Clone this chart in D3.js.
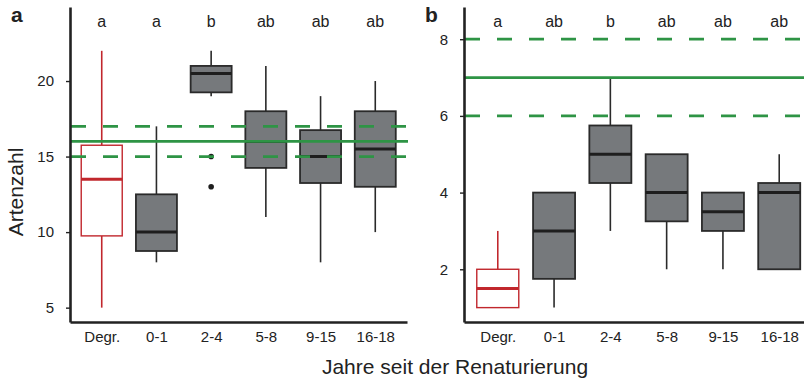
<!DOCTYPE html>
<html><head><meta charset="utf-8">
<script src="https://cdn.jsdelivr.net/npm/d3@7"></script>
<style>
body{margin:0;background:#fff;}
text{font-family:"Liberation Sans",Arial,Helvetica,sans-serif;fill:#222;}
</style></head>
<body><svg id="c" width="804" height="382"></svg>
<script>
const categories = ["Degr.","0-1","2-4","5-8","9-15","16-18"];
// Panel a: Artenzahl
const aMin = [5, 8, 19, 11, 8, 10];
const aQ1  = [9.75, 8.75, 19.25, 14.25, 13.25, 13];
const aMed = [13.5, 10, 20.5, 16, 15, 15.5];
const aQ3  = [15.75, 12.5, 21, 18, 16.75, 18];
const aMax = [22, 17, 22, 21, 19, 20];
const aOutlierCats = ["2-4","2-4"];
const aOutlierVals = [15, 13];
const aLetters = ["a","a","b","ab","ab","ab"];
const aRef = [15, 16, 17];
const aTicks = [5, 10, 15, 20];
// Panel b
const bMin = [1, 1, 3, 2, 2, 2];
const bQ1  = [1, 1.75, 4.25, 3.25, 3, 2];
const bMed = [1.5, 3, 5, 4, 3.5, 4];
const bQ3  = [2, 4, 5.75, 5, 4, 4.25];
const bMax = [3, 4, 7, 5, 4, 5];
const bOutlierCats = [];
const bOutlierVals = [];
const bLetters = ["a","ab","b","ab","ab","ab"];
const bRef = [6, 7, 8];
const bTicks = [2, 4, 6, 8];

const svg = d3.select("#c");
const GREEN = "#2e9445", RED = "#c1272d", GRAY = "#76797c", DARK = "#2a2a2a";

function panel(o){
  const x = d3.scalePoint().domain(categories).range(o.xr).padding(o.pad);
  const y = d3.scaleLinear().domain(o.yd).range([322, 7]);
  const g = svg.append("g");
  const bw = o.bw;
  categories.forEach((c,i)=>{
    const cx = x(c);
    const isRef = i===0;
    const stroke = isRef ? RED : DARK;
    g.append("line").attr("x1",cx).attr("x2",cx).attr("y1",y(o.max[i])).attr("y2",y(o.q3[i]))
      .attr("stroke",stroke).attr("stroke-width",1.6);
    g.append("line").attr("x1",cx).attr("x2",cx).attr("y1",y(o.q1[i])).attr("y2",y(o.min[i]))
      .attr("stroke",stroke).attr("stroke-width",1.6);
    g.append("rect").attr("x",cx-bw/2).attr("width",bw)
      .attr("y",y(o.q3[i])).attr("height",y(o.q1[i])-y(o.q3[i]))
      .attr("fill",isRef?"#fff":GRAY).attr("stroke",stroke).attr("stroke-width",isRef?1.4:1.8);
    g.append("line").attr("x1",cx-bw/2).attr("x2",cx+bw/2).attr("y1",y(o.med[i])).attr("y2",y(o.med[i]))
      .attr("stroke",isRef?RED:"#1e1e1e").attr("stroke-width",3);
  });
  o.oc.forEach((c,i)=>{
    g.append("circle").attr("cx",x(c)).attr("cy",y(o.ov[i])).attr("r",2.8).attr("fill","#1e1e1e");
  });
  const x0 = o.xr[0], x1 = o.lineEnd;
  [o.ref[0], o.ref[2]].forEach(v=>{
    g.append("line").attr("x1",x0+1).attr("x2",x1).attr("y1",y(v)).attr("y2",y(v))
      .attr("stroke",GREEN).attr("stroke-width",2.8).attr("stroke-dasharray","15,17");
  });
  g.append("line").attr("x1",x0).attr("x2",x1).attr("y1",y(o.ref[1])).attr("y2",y(o.ref[1]))
    .attr("stroke",GREEN).attr("stroke-width",2.8);
  categories.forEach((c,i)=>{
    g.append("text").attr("x",x(c)).attr("y",26.5).attr("text-anchor","middle")
      .attr("font-size",16).text(o.letters[i]);
  });
  const ya = g.append("g").attr("transform",`translate(${o.xr[0]},0)`)
    .call(d3.axisLeft(y).tickValues(o.ticks).tickSize(4).tickSizeOuter(0).tickPadding(12));
  const xa = g.append("g").attr("transform","translate(0,322)")
    .call(d3.axisBottom(x).tickSize(0).tickPadding(9));
  [ya,xa].forEach(a=>{
    a.select(".domain").attr("stroke","#222").attr("stroke-width",2.6);
    a.selectAll(".tick line").attr("stroke","#222").attr("stroke-width",1.4);
    a.selectAll(".tick text").attr("font-size",15).attr("fill","#222")
      .attr("font-family","'Liberation Sans',Arial,sans-serif");
  });
  g.append("text").attr("x",o.labX).attr("y",22).attr("font-size",21).attr("font-weight","bold").text(o.label);
}

panel({xr:[70,407], pad:0.58, yd:[4.05,24.9], bw:41, min:aMin,q1:aQ1,med:aMed,q3:aQ3,max:aMax,
  oc:aOutlierCats, ov:aOutlierVals, letters:aLetters, ref:aRef, ticks:aTicks, lineEnd:408, label:"a", labX:11});
panel({xr:[464,813], pad:0.6, yd:[0.625,8.84], bw:42, min:bMin,q1:bQ1,med:bMed,q3:bQ3,max:bMax,
  oc:bOutlierCats, ov:bOutlierVals, letters:bLetters, ref:bRef, ticks:bTicks, lineEnd:804, label:"b", labX:425});

svg.append("text").attr("transform","translate(23,192) rotate(-90)").attr("text-anchor","middle")
  .attr("font-size",21).text("Artenzahl");
svg.append("text").attr("x",455).attr("y",374).attr("text-anchor","middle")
  .attr("font-size",21).text("Jahre seit der Renaturierung");
</script></body></html>
